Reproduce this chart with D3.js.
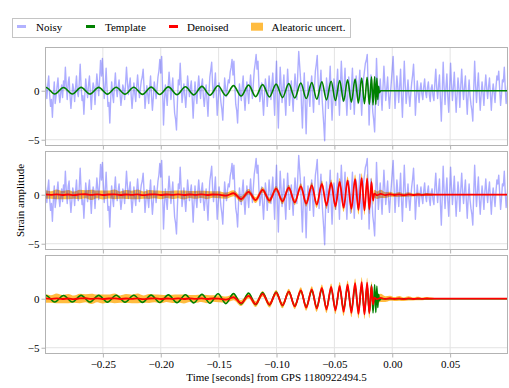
<!DOCTYPE html>
<html>
<head>
<meta charset="utf-8">
<script src="https://cdn.jsdelivr.net/npm/d3@7"></script>
<style>
  body { margin: 0; background: #fff; }
  text { font-family: "Liberation Serif", "Times New Roman", "DejaVu Serif", serif; }
</style>
</head>
<body>
<div id="wrapper"></div>
<script>
// noisy strain, sampled every noisyStep seconds from noisyStart
const noisyStart = -0.3;
const noisyStep = 0.0008;
const noisyV = [
  1.2,0.3,-0.8,0.6,1.5,-0.4,-1.6,-0.9,-2.7,-0.6,0.9,-1.3,-0.5,0.4,1.3,-0.3,-1.2,-0.2,0.6,-0.7,1.0,0.2,2.4,0.5,-0.9,0.8,1.4,-0.5,-1.8,-0.6,0.7,0.1,-1.1,0.3,1.5,-0.2,-0.6,0.8,2.7,0.4,
  -1.0,-0.5,-2.4,-0.4,1.2,0.1,-0.7,0.6,1.5,-0.3,-1.9,-0.2,0.8,0.3,-1.4,0.2,1.7,0.6,-0.5,1.2,3.1,1.5,3.3,1.0,-0.8,0.4,2.3,0.2,-1.6,-1.2,-3.3,-0.7,0.9,-0.4,-1.2,0.5,1.8,0.2,-0.6,0.4,
  1.1,-0.3,-1.5,-0.6,0.6,0.2,-0.9,0.7,2.4,0.9,-0.4,0.5,1.3,-0.4,-1.8,-0.5,0.8,-0.3,-1.1,0.4,1.6,0.3,-0.7,0.2,1.0,1.4,2.2,0.3,-1.8,-0.6,0.5,-0.4,-1.3,0.2,1.5,-0.5,-2.0,-0.7,0.9,0.1,
  -0.8,0.3,1.4,2.0,3.2,1.8,3.5,0.2,-3.5,-1.1,0.6,-0.5,-1.5,0.4,1.9,0.5,-0.9,0.2,1.3,-0.6,-2.3,-2.9,-4.0,-1.2,1.1,0.6,2.8,0.7,-1.2,-0.3,0.7,-0.5,-1.7,-0.2,1.5,0.4,-0.6,0.3,1.0,-0.8,
  -2.8,-0.7,0.9,-0.4,-1.3,0.3,1.5,0.2,-0.8,0.5,1.2,-0.6,-1.6,-0.4,0.6,-1.0,-2.6,-0.3,1.4,2.1,2.9,0.6,-0.7,0.5,1.8,-0.4,-2.5,-0.8,0.8,-0.2,-1.2,-1.9,-3.0,-0.6,1.3,0.2,-0.6,0.4,1.1,0.8,
  1.9,2.4,3.2,1.6,3.0,0.5,-1.4,-2.0,-3.3,-0.8,0.7,-0.3,-1.0,0.4,1.5,-0.5,-2.0,-0.4,0.9,-0.2,-1.3,0.3,1.6,0.2,-0.8,0.7,2.1,2.8,3.7,2.2,3.0,0.6,-1.1,-0.3,0.8,-0.9,-2.5,-0.5,1.2,0.3,
  -1.6,-0.2,1.5,0.3,-0.9,0.6,1.8,-0.4,-2.5,0.7,3.0,-0.6,-3.8,-0.2,2.4,0.5,-1.2,0.3,1.6,-0.8,-2.5,-0.1,2.2,0.4,-1.5,-0.3,1.0,-0.6,-2.1,0.2,1.7,0.5,-0.9,1.8,4.0,2.6,1.2,-1.5,-3.8,-0.4,
  1.8,-1.2,-4.4,-1.0,0.9,-0.3,-1.6,0.4,1.5,-0.5,-2.2,0.3,2.0,2.7,3.6,0.8,-1.4,0.6,2.1,-0.4,-2.0,-3.4,-5.1,-1.5,1.3,0.2,-1.8,0.6,2.5,-0.7,-3.0,-0.8,1.2,0.3,-1.5,0.5,2.2,-0.3,-2.5,0.4,
  3.0,0.9,-1.1,0.5,2.3,-0.6,-2.5,-0.4,1.4,0.2,-1.9,0.5,2.3,-0.3,-2.4,-0.2,1.5,0.4,-1.3,0.6,2.1,-0.5,-2.5,-0.3,1.2,2.0,2.8,3.1,3.7,0.4,-3.5,-0.7,1.6,-0.4,-2.2,-3.0,-4.2,-0.5,3.3,0.8,
  -1.5,-0.2,1.2,-0.4,-2.0,0.3,2.5,0.6,-1.0,0.2,1.4,-0.5,-1.8,-0.3,0.9,2.2,3.5,0.7,-1.8,-0.2,1.5,0.3,-1.2,0.4,2.2,-0.5,-2.7,0.1,3.0,0.6,-1.3,-0.2,1.1,-0.4,-1.6,-0.3,0.8,1.6,2.7,0.5,
  -2.5,-0.6,1.0,-0.2,-1.2,0.1,0.8,-0.3,-0.9,0.4,1.2,-0.2,-0.7,0.3,0.9,-0.4,-1.1,0.2,0.6,-0.5,-1.0,0.8,2.2,0.3,-0.8,0.5,1.6,-0.9,-3.1,-0.2,2.9,0.4,-1.4,0.3,1.7,-0.6,-2.2,0.2,2.8,0.7,
  -1.0,0.3,1.9,-0.2,-2.2,-0.4,1.3,0.2,-1.7,0.5,2.2,0.3,-0.9,0.4,1.5,-0.6,-2.4,-0.3,1.1,-0.5,-1.4,-2.0,-3.1,0.2,3.0,0.5,-1.2,0.4,1.8,-0.3,-2.0,-0.4,0.9,-0.2,-1.5,0.3,1.6,0.2,-0.8,0.4,
  1.3,-0.4,-2.0,-0.3,0.7,-0.2,-1.2,0.3,1.5,1.1,2.0,0.2,-1.5,-0.4,1.1,0.9,2.4,0.3,-1.3,-0.2,1.0
];

// template: times of its peaks / troughs and the value there
const tplT = [-0.3067,-0.2991,-0.2916,-0.2840,-0.2764,-0.2688,-0.2612,-0.2536,-0.2461,-0.2385,
  -0.2309,-0.2233,-0.2158,-0.2083,-0.2009,-0.1934,-0.1860,-0.1787,-0.1715,-0.1644,
  -0.1575,-0.1505,-0.1438,-0.1371,-0.1306,-0.1241,-0.1180,-0.1120,-0.1061,-0.1003,
  -0.0948,-0.0894,-0.0842,-0.0790,-0.0743,-0.0695,-0.0652,-0.0608,-0.0568,-0.0528,
  -0.0491,-0.0454,-0.0420,-0.0386,-0.0353,-0.0321,-0.0292,-0.0264,-0.0240,-0.0217,
  -0.0198,-0.0179,-0.0166,-0.0152,-0.0142,-0.0133,-0.0125,-0.0118,-0.0111,-0.0100,0.1000];
const tplV = [-0.32,0.33,-0.33,0.33,-0.33,0.34,-0.34,0.34,-0.35,0.35,
  -0.35,0.36,-0.37,0.37,-0.38,0.39,-0.40,0.41,-0.42,0.44,
  -0.46,0.50,-0.50,0.52,-0.54,0.57,-0.60,0.62,-0.64,0.67,
  -0.70,0.72,-0.75,0.78,-0.80,0.83,-0.86,0.90,-0.93,0.97,
  -1.00,1.04,-1.08,1.12,-1.16,1.20,-1.24,1.28,-1.32,1.36,
  -1.40,1.42,-1.45,1.45,-1.42,1.30,-0.90,0.45,-0.20,0,0];

// denoised output and its aleatoric half-width
const denT = [-0.300,-0.295,-0.290,-0.285,-0.280,-0.275,-0.270,-0.265,-0.260,-0.255,
  -0.250,-0.245,-0.240,-0.235,-0.230,-0.225,-0.220,-0.215,-0.210,-0.205,
  -0.200,-0.195,-0.190,-0.185,-0.180,-0.175,-0.170,-0.165,-0.160,-0.155,-0.150,
  -0.1438,-0.1371,-0.1306,-0.1241,-0.1180,-0.1120,-0.1061,-0.1003,-0.0948,-0.0894,
  -0.0842,-0.0790,-0.0743,-0.0695,-0.0652,-0.0608,-0.0568,-0.0528,-0.0491,-0.0454,
  -0.0420,-0.0386,-0.0353,-0.0321,-0.0292,-0.0264,-0.0240,-0.0217,-0.0198,-0.0179,-0.0166,-0.0155,
  -0.0130,-0.0100,-0.0060,-0.0020,0.0020,0.0060,0.0100,0.0140,0.0180,0.0220,
  0.0260,0.0300,0.0340,0.0370,0.0450,0.0550,0.0650,0.0750,0.0850,0.1000];
const denV = [0.03,-0.02,0.04,-0.03,0.02,-0.04,0.03,0.05,-0.02,0.03,
  -0.03,0.02,0.04,-0.03,0.02,-0.02,0.03,-0.04,0.02,0.03,
  -0.03,0.02,-0.02,0.04,-0.03,0.02,-0.02,0.03,-0.03,0.02,0.00,
  -0.10,0.15,-0.45,0.30,-0.55,0.50,-0.60,0.62,-0.68,0.72,
  -0.78,0.85,-0.90,0.95,-1.00,1.10,-1.10,1.20,-1.20,1.30,
  -1.35,1.45,-1.45,1.60,-1.55,1.70,-1.60,1.65,-1.50,1.30,-0.60,0.10,
  -0.05,0.08,-0.04,0.05,-0.03,0.04,-0.05,0.03,-0.03,0.02,
  -0.02,0.02,0.00,0.00,0.00,0.00,0.00,0.00,0.00,0.00];
const uncW = [0.45,0.38,0.50,0.42,0.47,0.36,0.48,0.40,0.52,0.39,
  0.46,0.41,0.50,0.37,0.45,0.43,0.49,0.38,0.46,0.40,
  0.44,0.36,0.42,0.39,0.45,0.35,0.40,0.37,0.42,0.34,0.36,
  0.32,0.30,0.30,0.28,0.30,0.28,0.30,0.28,0.30,0.30,
  0.30,0.32,0.32,0.33,0.34,0.35,0.36,0.36,0.38,0.40,
  0.40,0.42,0.44,0.45,0.46,0.50,0.48,0.50,0.48,0.45,0.42,0.40,
  0.38,0.42,0.30,0.26,0.20,0.24,0.18,0.21,0.15,0.18,
  0.14,0.16,0.12,0.06,0.05,0.05,0.05,0.05,0.05,0.05];

const xTicks = [-0.25, -0.20, -0.15, -0.10, -0.05, 0.00, 0.05];
const yTicks = [-5, 0];
const legendLabels = ["Noisy", "Template", "Denoised", "Aleatoric uncert."];

const noisy = noisyV.map((v, i) => ({ t: noisyStart + i * noisyStep, v: v }));
const template = tplT.map((t, i) => ({ t: t, v: tplV[i] }));
const denoised = denT.map((t, i) => ({ t: t, v: denV[i], w: uncW[i] }));

const width = 509, height = 388;
const margin = { left: 45, right: 1 };
const panelTops = [47, 151, 255];
const panelH = 99;
const fontFamily = '"Liberation Serif", "Times New Roman", "DejaVu Serif", serif';

const colors = { noisy: "blue", tpl: "#008000", den: "#ff0000", unc: "orange", grid: "#e3e3e3", frame: "#b3b3b3" };

const svg = d3.select("#wrapper").append("svg")
    .attr("width", width)
    .attr("height", height)
    .attr("font-family", fontFamily);

const x = d3.scaleLinear()
    .domain([-0.3, 0.1])
    .range([margin.left, width - margin.right]);

function panel(idx, layers) {
    const top = panelTops[idx];
    const y = d3.scaleLinear().domain([-5.64, 4.46]).range([top + panelH, top]);
    const g = svg.append("g");

    g.append("clipPath").attr("id", "clip" + idx)
        .append("rect")
        .attr("x", x.range()[0]).attr("y", top)
        .attr("width", x.range()[1] - x.range()[0]).attr("height", panelH);

    // grid
    g.append("g").selectAll("line").data(xTicks).join("line")
        .attr("x1", d => x(d)).attr("x2", d => x(d))
        .attr("y1", top).attr("y2", top + panelH)
        .attr("stroke", colors.grid).attr("stroke-width", 1);
    g.append("g").selectAll("line").data(yTicks).join("line")
        .attr("x1", x.range()[0]).attr("x2", x.range()[1])
        .attr("y1", d => y(d)).attr("y2", d => y(d))
        .attr("stroke", colors.grid).attr("stroke-width", 1);

    const plot = g.append("g").attr("clip-path", `url(#clip${idx})`);

    const curveLine = d3.line().x(d => x(d.t)).y(d => y(d.v)).curve(d3.curveMonotoneX);
    const noisyLine = d3.line().x(d => x(d.t)).y(d => y(d.v));
    const band = d3.area().x(d => x(d.t))
        .y0(d => y(d.v - d.w)).y1(d => y(d.v + d.w))
        .curve(d3.curveMonotoneX);

    layers.forEach(name => {
        if (name === "unc") {
            plot.append("path").attr("d", band(denoised))
                .attr("fill", colors.unc).attr("fill-opacity", 0.75);
        } else if (name === "noisy") {
            plot.append("path").attr("d", noisyLine(noisy))
                .attr("fill", "none").attr("stroke", colors.noisy)
                .attr("stroke-opacity", 0.32).attr("stroke-width", 1.4)
                .attr("stroke-linejoin", "round");
        } else if (name === "tpl") {
            plot.append("path").attr("d", curveLine(template))
                .attr("fill", "none").attr("stroke", colors.tpl).attr("stroke-width", 1.6);
        } else if (name === "den") {
            plot.append("path").attr("d", curveLine(denoised))
                .attr("fill", "none").attr("stroke", colors.den).attr("stroke-width", 1.8);
        }
    });

    // frame
    g.append("rect")
        .attr("x", x.range()[0] + 0.5).attr("y", top + 0.5)
        .attr("width", x.range()[1] - x.range()[0] - 1).attr("height", panelH - 1)
        .attr("fill", "none").attr("stroke", colors.frame).attr("stroke-width", 1);

    const xAxis = d3.axisBottom(x).tickValues(xTicks).tickSize(3.5).tickPadding(2.5)
        .tickFormat(idx === 2 ? d3.format(".2f") : "");
    const xa = g.append("g").attr("transform", `translate(0,${top + panelH})`).call(xAxis);
    const yAxis = d3.axisLeft(y).tickValues(yTicks).tickSize(3.5).tickPadding(2).tickFormat(d3.format("d"));
    const ya = g.append("g").attr("transform", `translate(${x.range()[0]},0)`).call(yAxis);
    [xa, ya].forEach(a => {
        a.attr("font-family", fontFamily).attr("font-size", 11);
        a.select(".domain").remove();
        a.selectAll(".tick line").attr("stroke", colors.frame);
        a.selectAll("text").attr("fill", "#000");
    });
}

panel(0, ["noisy", "tpl"]);
panel(1, ["unc", "noisy", "den"]);
panel(2, ["unc", "tpl", "den"]);

// axis titles
svg.append("text")
    .attr("x", (x.range()[0] + x.range()[1]) / 2)
    .attr("y", 381)
    .attr("text-anchor", "middle")
    .style("font-size", "11px")
    .text("Time [seconds] from GPS 1180922494.5");
svg.append("text")
    .attr("transform", "rotate(-90)")
    .attr("x", -(panelTops[1] + panelH / 2))
    .attr("y", 23.5)
    .attr("text-anchor", "middle")
    .style("font-size", "11px")
    .text("Strain amplitude");

// legend
const legend = svg.append("g");
legend.append("rect")
    .attr("x", 12.5).attr("y", 18.5).attr("width", 338).attr("height", 19)
    .attr("fill", "#fff").attr("stroke", "#c4c4c4").attr("stroke-width", 1);
const legX = [17, 86, 169, 251];
const textX = [36, 105, 187, 271.5];
legendLabels.forEach((lab, i) => {
    if (i < 3) {
        const stroke = [colors.noisy, colors.tpl, colors.den][i];
        legend.append("line")
            .attr("x1", legX[i]).attr("x2", legX[i] + 9)
            .attr("y1", 26.5).attr("y2", 26.5)
            .attr("stroke", stroke).attr("stroke-width", 3)
            .attr("stroke-opacity", i === 0 ? 0.3 : 1);
    } else {
        legend.append("rect")
            .attr("x", legX[i]).attr("y", 22.7).attr("width", 12).attr("height", 8)
            .attr("fill", colors.unc).attr("fill-opacity", 0.75);
    }
    legend.append("text")
        .attr("x", textX[i]).attr("y", 30.5)
        .style("font-size", "11px")
        .text(lab);
});
</script>
</body>
</html>
